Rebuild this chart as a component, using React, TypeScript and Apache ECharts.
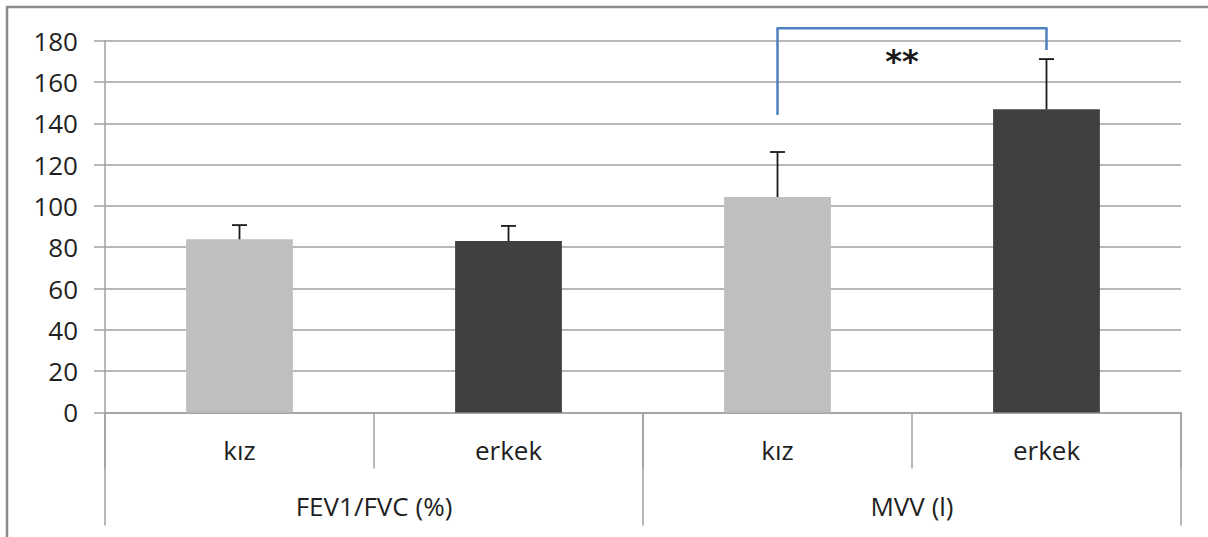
import React, { useEffect, useRef } from "react";
import * as echarts from "echarts";

const subCategories = ["kız", "erkek", "kız", "erkek"];
const groups = ["FEV1/FVC (%)", "MVV (l)"];
const means = [83.8, 83.0, 104.3, 146.8];
const sds = [6.9, 7.3, 21.8, 24.3];
const sexColors = { "kız": "#BFBFBF", erkek: "#404040" };
const yTicks = { min: 0, max: 180, interval: 20 };
// bracket: from category index, to category index, top value, left foot, right foot, star value
const bracket = [[2, 3, 186, 144, 175.5, 172.3]];
const bracketLabel = "**";

const GRAY = "#A0A0A0";
const FONT = "Open Sans";
const TEXT = "#1f1f1f";
const FS = 26;

export default function App() {
  const ref = useRef<HTMLDivElement>(null);

  useEffect(() => {
    if (!ref.current) return;
    const chart = echarts.init(ref.current, null, { renderer: "svg" });
    const option: any = {
      animation: false,
      backgroundColor: "#ffffff",
      textStyle: { fontFamily: FONT },
      grid: { left: 105, right: 27, top: 40.7, bottom: 124.6, containLabel: false },
      xAxis: [
        {
          type: "category",
          data: subCategories,
          position: "bottom",
          axisLine: { show: true, lineStyle: { color: GRAY, width: 1.5 } },
          axisTick: { show: true, interval: 0, length: 56, lineStyle: { color: GRAY, width: 1.5 } },
          axisLabel: { interval: 0, margin: 25, fontSize: FS, lineHeight: FS, color: TEXT, fontFamily: FONT },
          splitLine: { show: false },
        },
        {
          type: "category",
          data: groups,
          position: "bottom",
          axisLine: { show: false },
          axisTick: { show: true, interval: 0, length: 113, lineStyle: { color: GRAY, width: 1.5 } },
          axisLabel: { interval: 0, margin: 81, fontSize: FS, lineHeight: FS, color: TEXT, fontFamily: FONT },
          splitLine: { show: false },
        },
      ],
      yAxis: {
        type: "value",
        min: yTicks.min,
        max: yTicks.max,
        interval: yTicks.interval,
        axisLine: { show: true, lineStyle: { color: GRAY, width: 1.5 } },
        axisTick: { show: true, length: 11, lineStyle: { color: GRAY, width: 1.5 } },
        axisLabel: { margin: 27, fontSize: FS, color: TEXT, fontFamily: FONT },
        splitLine: { show: true, lineStyle: { color: GRAY, width: 1.5 } },
      },
      graphic: [
        { type: "line", shape: { x1: 6, y1: 7, x2: 1208, y2: 7 }, style: { stroke: "#8c8c8c", lineWidth: 2.5 } },
        { type: "line", shape: { x1: 7, y1: 6, x2: 7, y2: 537 }, style: { stroke: "#8c8c8c", lineWidth: 2.5 } },
      ],
      series: [
        {
          type: "bar",
          xAxisIndex: 0,
          barWidth: "39.7%",
          data: means.map((v, i) => ({
            value: v,
            itemStyle: { color: (sexColors as any)[subCategories[i]] },
          })),
        },
        {
          type: "custom",
          xAxisIndex: 0,
          encode: { x: 0, y: [1, 2] },
          data: means.map((m, i) => [i, m, m + sds[i]]),
          renderItem: (params: any, api: any) => {
            const b = api.coord([api.value(0), api.value(1)]);
            const t = api.coord([api.value(0), api.value(2)]);
            const style = { stroke: "#1a1a1a", lineWidth: 1.8 };
            return {
              type: "group",
              children: [
                { type: "line", shape: { x1: b[0], y1: b[1], x2: t[0], y2: t[1] }, style },
                { type: "line", shape: { x1: t[0] - 7.5, y1: t[1], x2: t[0] + 7.5, y2: t[1] }, style },
              ],
            };
          },
          z: 5,
        },
        {
          type: "custom",
          xAxisIndex: 0,
          clip: false,
          encode: { x: [0, 1], y: [2, 3, 4, 5] },
          data: bracket,
          renderItem: (params: any, api: any) => {
            const pTopL = api.coord([api.value(0), api.value(2)]);
            const pTopR = api.coord([api.value(1), api.value(2)]);
            const pFootL = api.coord([api.value(0), api.value(3)]);
            const pFootR = api.coord([api.value(1), api.value(4)]);
            const pStar = api.coord([api.value(0), api.value(5)]);
            const midX = (pTopL[0] + pTopR[0]) / 2;
            return {
              type: "group",
              children: [
                {
                  type: "polyline",
                  shape: { points: [pFootL, pTopL, pTopR, pFootR] },
                  style: { stroke: "#4F81BD", lineWidth: 2.5, fill: "none", lineJoin: "round" },
                },
                {
                  type: "text",
                  style: {
                    text: bracketLabel,
                    x: midX - 10,
                    y: pStar[1] + 4,
                    align: "center",
                    verticalAlign: "middle",
                    fontSize: 32,
                    fontWeight: "bold",
                    fontFamily: "DejaVu Sans",
                    fill: "#1a1a1a",
                  },
                },
              ],
            };
          },
          z: 6,
        },
      ],
    };
    chart.setOption(option);
    return () => chart.dispose();
  }, []);

  return (
    <div
      ref={ref}
      style={{ position: "absolute", left: 0, top: 0, width: 1208, height: 537, background: "#fff" }}
    />
  );
}
